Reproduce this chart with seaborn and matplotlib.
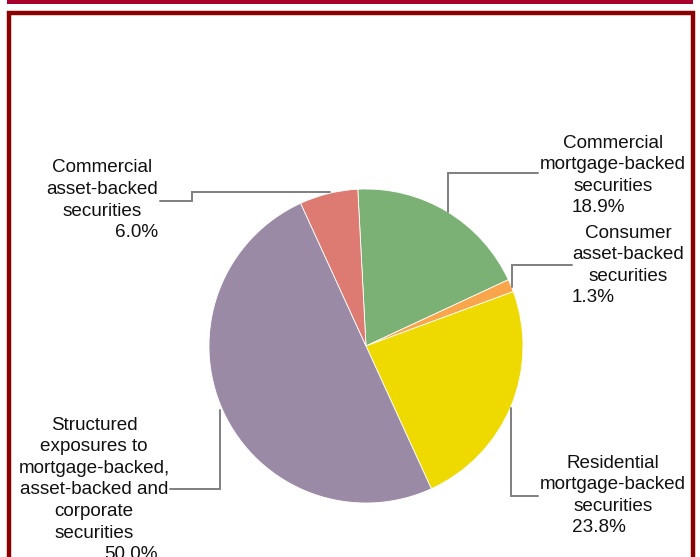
import matplotlib
matplotlib.use("Agg")
import matplotlib.pyplot as plt
import seaborn as sns

# chart data, clockwise from the top
categories = [
    "Commercial\nmortgage-backed\nsecurities",
    "Consumer\nasset-backed\nsecurities",
    "Residential\nmortgage-backed\nsecurities",
    "Structured\nexposures to\nmortgage-backed,\nasset-backed and\ncorporate\nsecurities",
    "Commercial\nasset-backed\nsecurities",
]
shares = [18.9, 1.3, 23.8, 50.0, 6.0]
colors = ["#7BB174", "#F9A54B", "#EED900", "#9B8AA5", "#DD7B72"]

sns.set_theme(style="white")
plt.rcParams['font.family'] = ['Liberation Sans', 'DejaVu Sans']

W, H = 700, 557
fig = plt.figure(figsize=(W / 100, H / 100), dpi=100)
ax = fig.add_axes([0, 0, 1, 1])


def py(y):
    # pixel row -> data y
    return H - y


cx, cy, r = 366, 346, 157
ax.pie(shares, colors=colors, startangle=93, counterclock=False,
       center=(cx, py(cy)), radius=r,
       wedgeprops=dict(edgecolor="white", linewidth=0.6))
ax.set_xlim(0, W)
ax.set_ylim(0, H)
ax.set_aspect("auto")
ax.axis("off")

# label placement: (x, first line y, align of name, percent x, percent align)
label_pos = [
    (613, 143, "center", 572, "left"),
    (628, 233, "center", 572, "left"),
    (613, 463, "center", 572, "left"),
    (94, 425, "center", 158, "right"),
    (102, 168, "center", 158, "right"),
]
leaders = [
    [(448, 212), (448, 173), (538, 173)],
    [(512, 287), (512, 265), (572, 265)],
    [(511, 408), (511, 496), (538, 496)],
    [(220, 410), (220, 489), (170, 489)],
    [(330, 192), (192, 192), (192, 201), (160, 201)],
]

step = 21.6
fs = 13.6
for name, val, (x, y0, ha, px, pha), pts in zip(categories, shares, label_pos, leaders):
    lines = name.split("\n")
    for i, line in enumerate(lines):
        ax.text(x, py(y0 + i * step), line, ha=ha, va="center",
                fontsize=fs, color="#111111")
    ax.text(px, py(y0 + len(lines) * step), f"{val:.1f}%", ha=pha,
            va="center", fontsize=fs, color="#111111")
    xs = [p[0] for p in pts]
    ys = [py(p[1]) for p in pts]
    ax.plot(xs, ys, color="#7F7F7F", linewidth=1.4, solid_joinstyle="miter")

# frame decoration
ax.fill_between([7, 693], py(0), py(4), color="#A8002D", linewidth=0)
ax.plot([8.5, 8.5, 692.5, 692.5], [py(H + 5), py(12.5), py(12.5), py(H + 5)],
        color="#8B0000", linewidth=3.2, solid_joinstyle="miter",
        clip_on=False)

fig.savefig("out.png", dpi=100)
